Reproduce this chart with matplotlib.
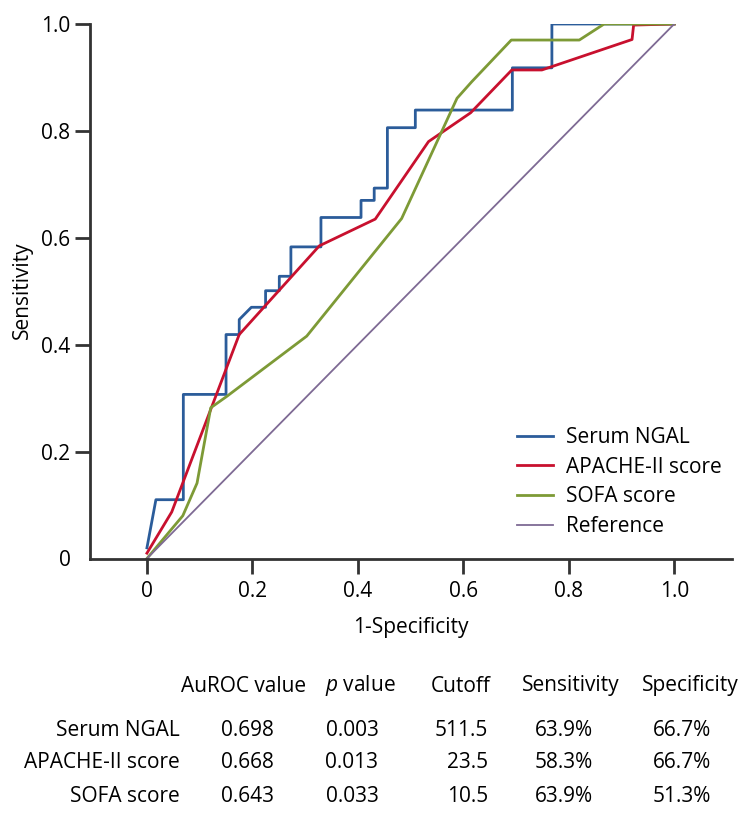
import matplotlib
matplotlib.use('Agg')
import matplotlib.pyplot as plt

plt.rcParams['font.family'] = ['Open Sans', 'DejaVu Sans']
plt.rcParams['mathtext.fontset'] = 'custom'
plt.rcParams['mathtext.it'] = 'Open Sans:italic'
plt.rcParams['mathtext.rm'] = 'Open Sans'

# ROC 曲线数据
ngal_fpr = [0, 0.017, 0.069, 0.069, 0.150, 0.150, 0.175, 0.175, 0.198, 0.225, 0.225, 0.251, 0.251,
            0.273, 0.273, 0.330, 0.330, 0.406, 0.406, 0.431, 0.431, 0.456, 0.456, 0.509, 0.509,
            0.693, 0.693, 0.768, 0.768, 1.0]
ngal_tpr = [0.02, 0.11, 0.11, 0.307, 0.307, 0.419, 0.419, 0.447, 0.47, 0.47, 0.501, 0.501, 0.528,
            0.528, 0.583, 0.583, 0.638, 0.638, 0.670, 0.670, 0.693, 0.693, 0.806, 0.806, 0.839,
            0.839, 0.918, 0.918, 1.0, 1.0]

apache_fpr = [0, 0.047, 0.175, 0.327, 0.433, 0.534, 0.614, 0.692, 0.749, 0.920, 0.923, 1.0]
apache_tpr = [0.01, 0.087, 0.419, 0.585, 0.635, 0.78, 0.834, 0.914, 0.914, 0.971, 0.998, 1.0]

sofa_fpr = [0, 0.068, 0.095, 0.121, 0.151, 0.303, 0.483, 0.588, 0.616, 0.691, 0.820, 0.867, 1.0]
sofa_tpr = [0, 0.08, 0.141, 0.282, 0.303, 0.416, 0.636, 0.861, 0.892, 0.970, 0.970, 1.0, 1.0]

ref_xy = [0, 1]

ticks = [0, 0.2, 0.4, 0.6, 0.8, 1.0]
tick_labels = ['0', '0.2', '0.4', '0.6', '0.8', '1.0']

# 表格数据
col_headers = ['AuROC value', '$\\it{p}$ value', 'Cutoff', 'Sensitivity', 'Specificity']
row_names = ['Serum NGAL', 'APACHE-II score', 'SOFA score']
auroc = ['0.698', '0.668', '0.643']
pvals = ['0.003', '0.013', '0.033']
cutoffs = ['511.5', '23.5', '10.5']
sens = ['63.9%', '58.3%', '63.9%']
spec = ['66.7%', '66.7%', '51.3%']

FS = 15
W, H = 754, 819
fig = plt.figure(figsize=(W / 100, H / 100), dpi=100)
ax = fig.add_axes([90 / W, 1 - 558.5 / H, (731.7 - 90) / W, (558.5 - 24) / H])

ax.plot(ngal_fpr, ngal_tpr, color='#2b5c9a', lw=2.0, label='Serum NGAL')
ax.plot(apache_fpr, apache_tpr, color='#c8102e', lw=2.0, label='APACHE-II score')
ax.plot(sofa_fpr, sofa_tpr, color='#7d9a36', lw=2.0, label='SOFA score')
ax.plot(ref_xy, ref_xy, color='#7e6a94', lw=1.3, label='Reference')

ax.set_xlim(-0.108, 1.109)
ax.set_ylim(0, 1)
ax.set_xticks(ticks)
ax.set_xticklabels(tick_labels)
ax.set_yticks(ticks)
ax.set_yticklabels(tick_labels)
ax.tick_params(axis='both', direction='out', length=11, width=2, color='#333333',
               labelsize=FS, labelcolor='black')
ax.tick_params(axis='x', pad=5)
ax.tick_params(axis='y', pad=3)
ax.yaxis.get_major_ticks()[0].tick1line.set_visible(False)

for s in ['top', 'right']:
    ax.spines[s].set_visible(False)
for s in ['left', 'bottom']:
    ax.spines[s].set_linewidth(2)
    ax.spines[s].set_color('#333333')

fig.text(411 / W, 1 - 628 / H, '1-Specificity', ha='center', va='center', fontsize=FS)
fig.text(22 / W, 1 - 290 / H, 'Sensitivity', ha='center', va='center', rotation=90, fontsize=FS)

ax.legend(loc='upper left', bbox_to_anchor=(0.652, 0.262), frameon=False, fontsize=FS,
          handlelength=1.75, handletextpad=0.6, labelspacing=0.42, borderaxespad=0)

# 表格
hdr_x = [244, 360, 461, 571, 690]
hdr_y = 686
row_y = [730, 762, 796]
for i, h in enumerate(col_headers):
    fig.text(hdr_x[i] / W, 1 - hdr_y / H, h, ha='center', va='center', fontsize=FS)

for j, name in enumerate(row_names):
    y = 1 - row_y[j] / H
    fig.text(180 / W, y, name, ha='right', va='center', fontsize=FS)
    fig.text(247 / W, y, auroc[j], ha='center', va='center', fontsize=FS)
    fig.text(352 / W, y, pvals[j], ha='center', va='center', fontsize=FS)
    fig.text(488 / W, y, cutoffs[j], ha='right', va='center', fontsize=FS)
    fig.text(564 / W, y, sens[j], ha='center', va='center', fontsize=FS)
    fig.text(682 / W, y, spec[j], ha='center', va='center', fontsize=FS)

plt.savefig('out.png', dpi=100, facecolor='white')
